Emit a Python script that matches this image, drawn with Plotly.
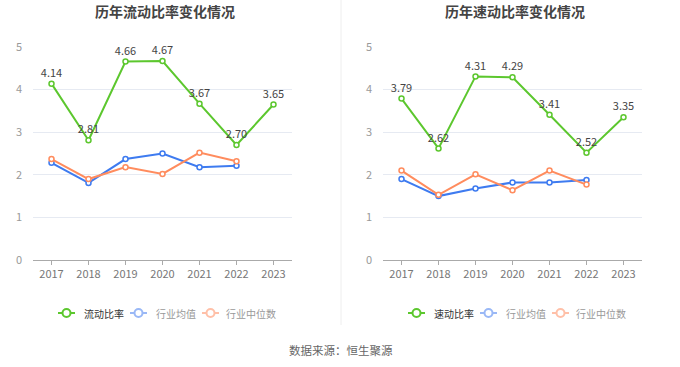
import plotly.graph_objects as go

years = ["2017", "2018", "2019", "2020", "2021", "2022", "2023"]
current_ratio = [4.14, 2.81, 4.66, 4.67, 3.67, 2.70, 3.65]
current_ind_mean = [2.28, 1.81, 2.37, 2.50, 2.18, 2.21]
current_ind_median = [2.37, 1.90, 2.18, 2.02, 2.52, 2.32]
quick_ratio = [3.79, 2.62, 4.31, 4.29, 3.41, 2.52, 3.35]
quick_ind_mean = [1.90, 1.50, 1.68, 1.82, 1.82, 1.88]
quick_ind_median = [2.10, 1.53, 2.01, 1.64, 2.10, 1.77]
y_ticks = [0, 1, 2, 3, 4, 5]

GREEN = "#5cc72e"
BLUE = "#3e7bf0"
ORANGE = "#ff8c5e"
BLUE_L = "#9ab8f6"
ORANGE_L = "#ffc0a8"
FONT = "Noto Sans CJK SC"
W, H = 680, 367


def px(x):
    return x / W


def py(y):
    return 1 - y / H


fig = go.Figure()


def add_panel(xa, ya, main, mean, median):
    fig.add_trace(go.Scatter(
        x=years, y=main, xaxis=xa, yaxis=ya, mode="lines+markers+text",
        line=dict(color=GREEN, width=2),
        marker=dict(symbol="circle", size=5, color="white", line=dict(color=GREEN, width=1.5)),
        text=[f"{v:.2f}" for v in main], textposition="top center",
        textfont=dict(size=11, color="#444", family=FONT),
        showlegend=False, cliponaxis=False))
    fig.add_trace(go.Scatter(
        x=years[:len(mean)], y=mean, xaxis=xa, yaxis=ya, mode="lines+markers",
        line=dict(color=BLUE, width=2),
        marker=dict(symbol="circle", size=5, color="white", line=dict(color=BLUE, width=1.5)),
        showlegend=False))
    fig.add_trace(go.Scatter(
        x=years[:len(median)], y=median, xaxis=xa, yaxis=ya, mode="lines+markers",
        line=dict(color=ORANGE, width=2),
        marker=dict(symbol="circle", size=5, color="white", line=dict(color=ORANGE, width=1.5)),
        showlegend=False))


add_panel("x", "y", current_ratio, current_ind_mean, current_ind_median)
add_panel("x2", "y2", quick_ratio, quick_ind_mean, quick_ind_median)

shapes = [dict(type="line", xref="paper", yref="paper", x0=px(341), x1=px(341),
               y0=py(325), y1=1, line=dict(color="#eeeeee", width=1))]
annotations = []


def legend(x0, main_name):
    items = [(main_name, GREEN, "#333", 0, 24), ("行业均值", BLUE_L, "#999", 72, 96),
             ("行业中位数", ORANGE_L, "#999", 144, 166)]
    yc = 313
    for name, col, tcol, dx, tx in items:
        lx = x0 + dx
        shapes.append(dict(type="line", xref="paper", yref="paper", x0=px(lx), x1=px(lx + 17),
                           y0=py(yc), y1=py(yc), line=dict(color=col, width=2)))
        shapes.append(dict(type="circle", xref="paper", yref="paper", x0=px(lx + 4.5), x1=px(lx + 12.5),
                           y0=py(yc + 4), y1=py(yc - 4), fillcolor="white", line=dict(color=col, width=2)))
        annotations.append(dict(text=name, x=px(x0 + tx), y=py(yc), xref="paper", yref="paper",
                                showarrow=False, xanchor="left", yanchor="middle",
                                font=dict(size=10, color=tcol, family=FONT)))


legend(58, "流动比率")
legend(408, "速动比率")

annotations += [
    dict(text="<b>历年流动比率变化情况</b>", x=px(165), y=py(11), xref="paper", yref="paper",
         showarrow=False, font=dict(size=14, color="#444", family=FONT), xanchor="center", yanchor="middle"),
    dict(text="<b>历年速动比率变化情况</b>", x=px(515), y=py(11), xref="paper", yref="paper",
         showarrow=False, font=dict(size=14, color="#444", family=FONT), xanchor="center", yanchor="middle"),
    dict(text="数据来源：恒生聚源", x=px(341), y=py(350), xref="paper", yref="paper",
         showarrow=False, font=dict(size=11.5, color="#666", family=FONT), xanchor="center", yanchor="middle"),
]

ydom = [py(260), py(47)]
xcommon = dict(type="category", range=[-0.5, 6.5], showline=True, linecolor="#aaa", linewidth=1,
               ticks="outside", ticklen=4, tickcolor="#aaa", showgrid=False, automargin=False,
               tickfont=dict(size=11, color="#777", family=FONT), fixedrange=True)
ycommon = dict(range=[0, 5], tickvals=y_ticks, showgrid=True, gridcolor="#e6eaf2", gridwidth=1,
               zeroline=False, showline=False, tickfont=dict(size=11, color="#999", family=FONT),
               ticklabelstandoff=10, domain=ydom, automargin=False, fixedrange=True)

fig.update_layout(
    width=W, height=H, margin=dict(l=0, r=0, t=0, b=0, autoexpand=False),
    paper_bgcolor="white", plot_bgcolor="white",
    font=dict(family=FONT), showlegend=False, hovermode=False,
    xaxis=dict(domain=[px(33), px(292)], anchor="y", **xcommon),
    xaxis2=dict(domain=[px(383), px(642)], anchor="y2", **xcommon),
    yaxis=dict(anchor="x", **ycommon),
    yaxis2=dict(anchor="x2", **ycommon),
    shapes=shapes,
    annotations=annotations,
)

fig.write_html("out.html", config={"displayModeBar": False},
               post_script="document.body.style.margin='0';")
